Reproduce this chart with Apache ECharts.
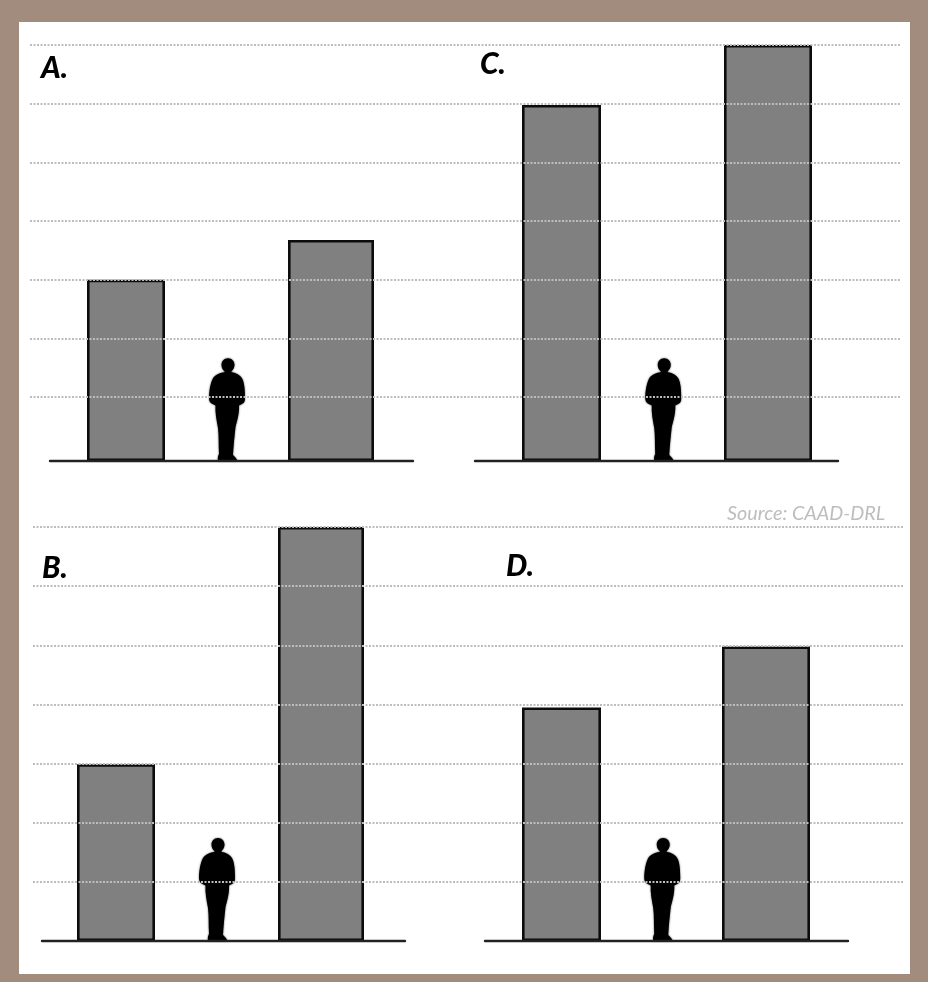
<!DOCTYPE html>
<html>
<head>
<meta charset="utf-8">
<style>html,body{margin:0;padding:0;background:#a28c7e}#c{width:928px;height:982px}</style>
<script src="https://cdn.jsdelivr.net/npm/echarts@6/dist/echarts.min.js"></script>
</head>
<body>
<div id="c"></div>
<script>
// Data (heights in grid-line storeys)
const panelNames = ['A.', 'B.', 'C.', 'D.'];
const leftBuilding = [3.05, 2.99, 5.99, 3.95];
const rightBuilding = [3.72, 7.0, 7.0, 4.98];
const personHeight = [1.73, 1.74, 1.73, 1.74];
const levels = 7;
const sourceText = 'Source: CAAD-DRL';

// Layout only
const layout = [
  {L: 50, R: 413, top: 45, base: 461, c1: 126, c2: 331, w1: 78, w2: 86, tx: 41, ty: 53},
  {L: 42, R: 405, top: 527, base: 941, c1: 116, c2: 321, w1: 78, w2: 86, tx: 42, ty: 553},
  {L: 475, R: 838, top: 45, base: 461, c1: 561.5, c2: 768, w1: 79, w2: 88, tx: 480, ty: 49},
  {L: 485, R: 848, top: 527, base: 941, c1: 561.5, c2: 766, w1: 79, w2: 88, tx: 506, ty: 551}
];
const W = 928, H = 982;
const personPath = 'path://M19 0C22.6 0 25.5 2.9 25.5 6.5C25.5 9.3 24.2 11.5 22.5 13L22.5 14C27.5 14.5 31.5 17 33.5 21C35.5 25 36 33 36 40C36 43 35.5 45 33 46L30 47.5C30.5 54 28.5 62 26.5 69C25.5 78 24.5 88 24 97C26 99 28 101 28.5 103L9 103C8.5 100 9 98 10 96C9.5 86 10 78 9 70C7.5 62 6 54 6.5 47.5L3.5 46C1 45 0 43 0 40C0 33 1.5 25 3.5 21C5.5 17 10 14.5 15.5 14L15.5 13C13.5 11.5 12.5 9.3 12.5 6.5C12.5 2.9 15.4 0 19 0Z';

const gridLineStyle = {color: '#bdbdbd', width: 2, type: [2, 1.5]};
const grids = [
  {left: 30, right: W - 900, top: 45, bottom: H - 455.7},
  {left: 33, right: W - 903, top: 527, bottom: H - 941}
];
const xAxes = [
  {gridIndex: 0, type: 'value', min: 0, max: 1, show: false},
  {gridIndex: 1, type: 'value', min: 0, max: 1, show: false}
];
const yAxes = grids.map((g, i) => ({
  gridIndex: i, type: 'value', min: 0, max: levels, interval: 1, z: 10,
  axisLine: {show: false}, axisTick: {show: false}, axisLabel: {show: false},
  splitLine: {show: true, showMinLine: false, showMaxLine: true, lineStyle: gridLineStyle}
}));
const series = [];

panelNames.forEach((name, i) => {
  const p = layout[i];
  const g = grids.length;
  grids.push({left: p.L, right: W - p.R, top: p.top, bottom: H - p.base});
  const unit = (p.c2 - p.c1) / 2;
  const range = {min: (p.L - p.c1) / unit, max: (p.R - p.c1) / unit};
  const xa = xAxes.length;
  xAxes.push({
    gridIndex: g, type: 'value', ...range, z: 6,
    axisLine: {show: true, onZero: false, lineStyle: {color: '#222', width: 2.4}},
    axisTick: {show: false}, axisLabel: {show: false}, splitLine: {show: false}
  });
  xAxes.push({gridIndex: g, type: 'value', ...range, show: false, splitLine: {show: false}});
  const ya = yAxes.length;
  yAxes.push({gridIndex: g, type: 'value', min: 0, max: levels, show: false, splitLine: {show: false}});
  const barStyle = {color: '#808080', borderColor: '#0c0c0c', borderWidth: 2.6};
  series.push({
    name: name + ' left', type: 'bar', xAxisIndex: xa, yAxisIndex: ya, barWidth: p.w1,
    data: [[0, leftBuilding[i]]], itemStyle: barStyle, silent: true
  });
  series.push({
    name: name + ' right', type: 'bar', xAxisIndex: xa + 1, yAxisIndex: ya, barWidth: p.w2,
    data: [[2, rightBuilding[i]]], itemStyle: barStyle, silent: true
  });
  series.push({
    name: name + ' person', type: 'pictorialBar', xAxisIndex: xa, yAxisIndex: ya,
    symbol: personPath, symbolSize: [36, '100%'], symbolPosition: 'start', symbolOffset: [-1.5, 0],
    symbolRepeat: false, data: [[1, personHeight[i]]],
    itemStyle: {color: '#000', shadowColor: 'rgba(0,0,0,0.7)', shadowBlur: 2}, silent: true, z: 4
  });
});

const titles = panelNames.map((name, i) => ({
  text: name, left: layout[i].tx, top: layout[i].ty, padding: 0,
  textStyle: {fontFamily: 'Lato', fontStyle: 'italic', fontWeight: 900, fontSize: 30, color: '#000'}
}));
titles.push({
  text: sourceText, left: 727, top: 504, padding: 0,
  textStyle: {fontFamily: 'Lato', fontStyle: 'italic', fontWeight: 'normal', fontSize: 19.8, color: '#bdbdbd'}
});

const chart = echarts.init(document.getElementById('c'), null, {renderer: 'canvas'});
chart.setOption({
  animation: false,
  backgroundColor: '#a28c7e',
  graphic: [{type: 'rect', z: -100, silent: true, shape: {x: 19, y: 22, width: 891, height: 952}, style: {fill: '#fff'}}],
  title: titles,
  grid: grids,
  xAxis: xAxes,
  yAxis: yAxes,
  series: series
});
</script>
</body>
</html>
